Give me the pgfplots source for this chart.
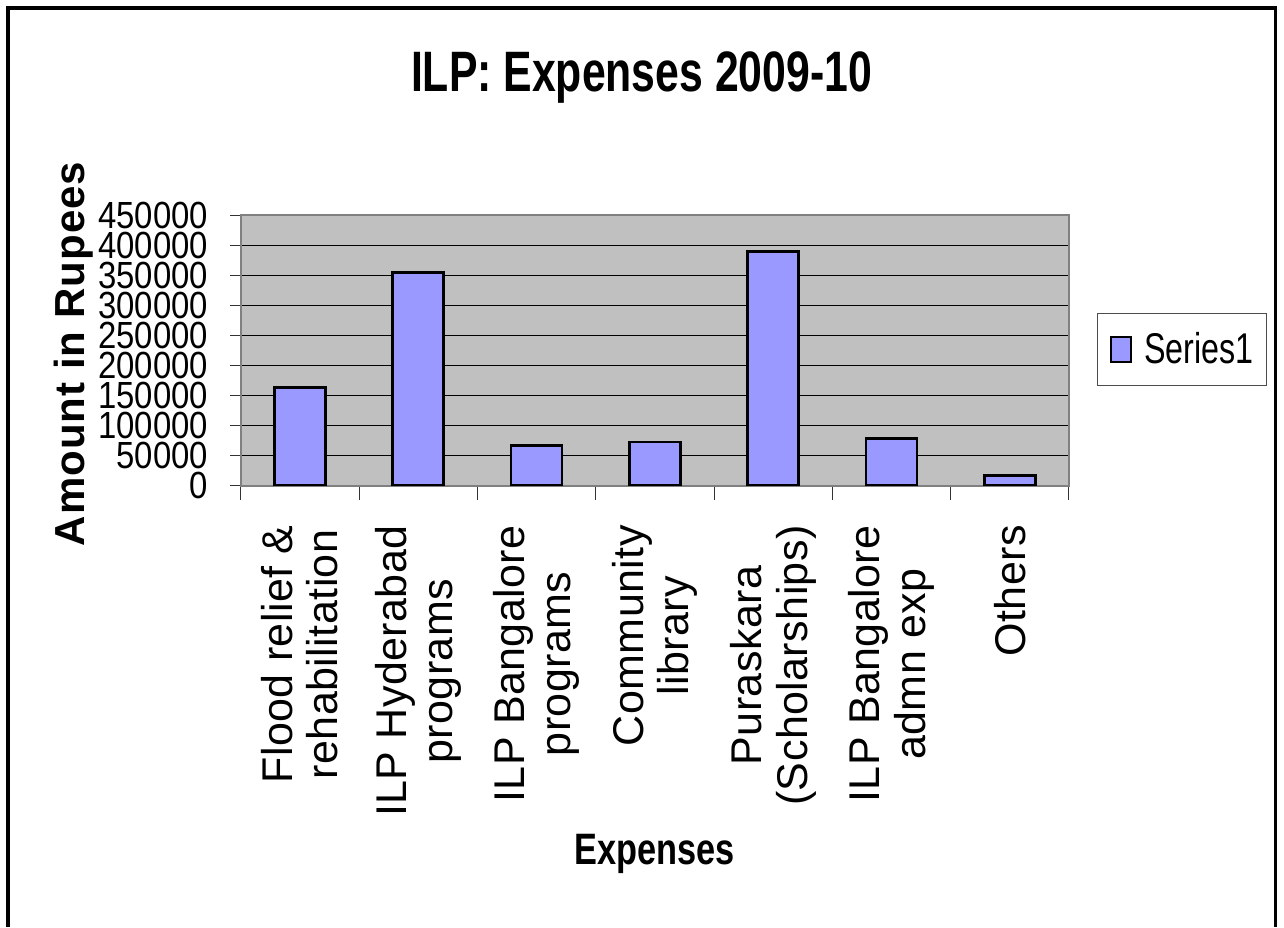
\documentclass[border=0pt]{standalone}
\usepackage{fontspec}
\setmainfont{Liberation Sans}
\newfontfamily\condfont[FakeStretch=0.75]{Liberation Sans}
\newfontfamily\xlabfont[FakeStretch=0.78]{Liberation Sans}
\newfontfamily\tickfont[FakeStretch=0.87]{Liberation Sans}
\newfontfamily\spacedfont[LetterSpace=1.0]{Liberation Sans}
\newfontfamily\ylabfont[LetterSpace=2.5]{Liberation Sans}
\usepackage{pgfplots}
\pgfplotsset{compat=1.18}
\definecolor{barblue}{HTML}{9999FF}
\definecolor{plotgray}{HTML}{C0C0C0}
\definecolor{bordergray}{HTML}{808080}

\begin{document}
\begin{tikzpicture}
\path[use as bounding box] (0,0) rectangle (642pt,463.5pt);
\draw[line width=1.6pt] (4pt,0pt) -- (4pt,459.5pt) -- (637.7pt,459.5pt) -- (637.7pt,0pt);
\node[anchor=base, inner sep=0pt, font=\condfont\bfseries\fontsize{28.5}{30}\selectfont] at (320.75pt,417.5pt) {ILP: Expenses 2009-10};
\begin{axis}[
  at={(120.35pt,220.65pt)}, anchor=south west,
  scale only axis, width=414.15pt, height=135.35pt,
  xmin=-0.5, xmax=6.5, ymin=0, ymax=450000,
  xtick={-0.5,0.5,1.5,2.5,3.5,4.5,5.5,6.5},
  x tick label as interval,
  xticklabels={{Flood relief \&\\rehabilitation},{ILP Hyderabad\\programs},{ILP Bangalore\\programs},{Community\\library},{Puraskara\\(Scholarships)},{ILP Bangalore\\admn exp},{Others}},
  xticklabel style={rotate=90, anchor=east, align=center, font=\spacedfont\fontsize{21.5}{22.75}\selectfont},
  xticklabel shift=11pt,
  ytick={0,50000,100000,150000,200000,250000,300000,350000,400000,450000},
  yticklabels={0,50000,100000,150000,200000,250000,300000,350000,400000,450000},
  scaled y ticks=false,
  yticklabel style={font=\tickfont\fontsize{18.9}{18.9}\selectfont, xshift=-7.5pt},
  tick align=outside,
  xtick pos=bottom, ytick pos=left,
  major tick length=5.3pt,
  xtick style={/pgfplots/major tick length=7pt},
  tick style={draw=black!80, line width=0.5pt},
  ymajorgrids,
  grid style={black, line width=0.5pt},
  axis background/.style={fill=plotgray},
  axis line style={draw=bordergray, line width=1pt},
  ylabel={Amount in Rupees},
  ylabel style={at={(axis description cs:-0.188,0.4865)}, anchor=base, font=\ylabfont\bfseries\fontsize{21}{21}\selectfont},
  xlabel={Expenses},
  xlabel style={at={(axis description cs:0.5,0)}, anchor=base, yshift=-189.6pt, font=\xlabfont\bfseries\fontsize{22}{22}\selectfont},
  legend style={at={(axis description cs:1.0335,0.638)}, anchor=north west, draw=black!70, line width=0.6pt,
    font=\condfont\fontsize{21.5}{21.5}\selectfont, inner xsep=6.5pt, inner ysep=9.5pt,
    nodes={inner sep=0pt}, column sep=6pt},
  legend image code/.code={\draw[fill=barblue, draw=black, line width=1pt] (0pt,-6.25pt) rectangle (10pt,6.25pt);},
]
\addplot[ybar, bar width=25.5pt, fill=barblue, draw=black, line width=1.35pt]
  coordinates {(0,162900) (1,354700) (2,67100) (3,72600) (4,389000) (5,78800) (6,16600)};
\addlegendentry{Series1}
\end{axis}
\end{tikzpicture}
\end{document}
